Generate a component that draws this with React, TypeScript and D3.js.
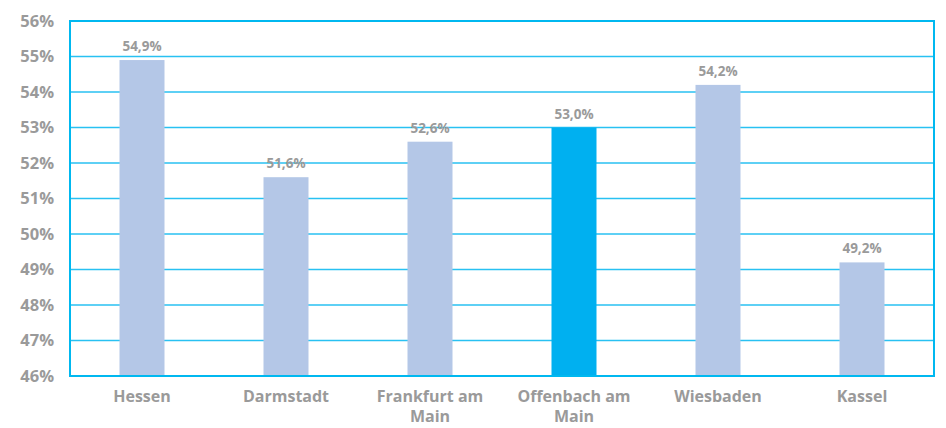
import React from 'react'
import {scaleBand, scaleLinear, range} from 'd3'

const width = 946
const height = 428

const categories = ['Hessen', 'Darmstadt', 'Frankfurt am Main', 'Offenbach am Main', 'Wiesbaden', 'Kassel']
const values = [54.9, 51.6, 52.6, 53.0, 54.2, 49.2]
const highlight = 'Offenbach am Main'
const yTicks = range(46, 57, 1)

const margin = {top: 21, right: 12, bottom: 52, left: 70}

// wrap category names like "Frankfurt am Main" into two lines
const wrap = (s: string) => {
    const i = s.lastIndexOf(' ')
    if (s.length > 10 && i > 0) return [s.slice(0, i), s.slice(i + 1)]
    return [s]
}

export default function App() {
    const x = scaleBand()
        .domain(categories)
        .range([margin.left, width - margin.right])
        .paddingInner(0.6875)
        .paddingOuter(0.34375)
    const y = scaleLinear()
        .domain([46, 56])
        .range([height - margin.bottom, margin.top])

    const x0 = margin.left
    const x1 = width - margin.right
    const font = "'Open Sans', Lato, sans-serif"
    const grey = '#9a9a9a'

    return (
        <svg width={width} height={height} style={{position: 'absolute', left: 0, top: 0}}>
            <rect width={width} height={height} fill="#fff" />
            {yTicks.map(t => (
                <g key={t}>
                    <line x1={x0} x2={x1} y1={y(t)} y2={y(t)} stroke="#29c1f2" strokeWidth={1.5} />
                    <text x={54} y={y(t)} dy="0.35em" textAnchor="end"
                        fontFamily={font} fontWeight={700} fontSize={16.5} fill={grey}>{t}%</text>
                </g>
            ))}
            {categories.map((c, i) => (
                <g key={c}>
                    <rect x={x(c)} y={y(values[i])} width={x.bandwidth()}
                        height={y(46) - y(values[i])}
                        fill={c === highlight ? '#00b0f0' : '#b4c7e7'} />
                    <text x={x(c)! + x.bandwidth() / 2} y={y(values[i]) - 9} textAnchor="middle"
                        fontFamily={font} fontWeight={700} fontSize={13.5} fill={grey}>
                        {values[i].toFixed(1).replace('.', ',')}%
                    </text>
                    <text x={x(c)! + x.bandwidth() / 2} y={402} textAnchor="middle"
                        fontFamily={font} fontWeight={700} fontSize={16} fill={grey}>
                        {wrap(c).map((l, j) => (
                            <tspan key={j} x={x(c)! + x.bandwidth() / 2} dy={j === 0 ? 0 : 20}>{l}</tspan>
                        ))}
                    </text>
                </g>
            ))}
            <rect x={x0} y={margin.top} width={x1 - x0} height={y(46) - margin.top}
                fill="none" stroke="#00b8f0" strokeWidth={2} />
        </svg>
    )
}
